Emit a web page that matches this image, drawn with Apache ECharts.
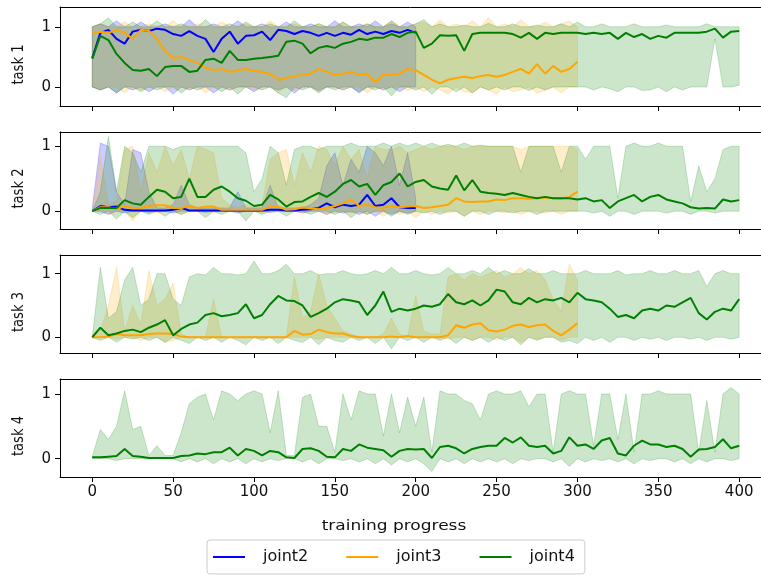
<!DOCTYPE html>
<html><head><meta charset="utf-8">
<script src="https://cdn.jsdelivr.net/npm/echarts@6/dist/echarts.min.js"></script>
<style>html,body{margin:0;padding:0;background:#fff}#c{width:761px;height:575px}</style>
</head><body><div id="c"></div>
<script>
// ---------- data (sampled every STEP units of training progress) ----------
const STEP = 5;
const xTicks = [0, 50, 100, 150, 200, 250, 300, 350, 400];
const yTicks = [0, 1];
const taskNames = ['task 1', 'task 2', 'task 3', 'task 4'];
const jointNames = ['joint2', 'joint3', 'joint4'];
const xLabel = 'training progress';

// task 1
const t1_j2_mean = [0.48,0.90,0.95,0.80,0.72,0.92,0.95,0.93,0.97,0.95,0.88,0.85,0.93,0.85,0.80,0.58,0.80,0.92,0.72,0.85,0.86,0.92,0.78,0.95,0.93,0.88,0.93,0.90,0.85,0.90,0.85,0.90,0.87,0.95,0.88,0.92,0.88,0.93,0.90,0.95,0.90];
const t1_j2_lo = [0.00,-0.05,0.00,-0.10,0.00,-0.05,0.00,-0.08,0.00,0.00,-0.12,0.00,-0.05,0.00,0.00,-0.10,0.00,-0.05,0.00,0.00,-0.08,0.00,0.00,-0.05,0.00,-0.10,0.00,0.00,-0.06,0.00,0.00,-0.05,0.00,-0.10,0.00,0.00,-0.05,0.00,-0.08,0.00,0.00];
const t1_j2_hi = [1.00,1.05,1.00,1.10,1.00,1.00,1.08,1.00,1.00,1.05,1.00,1.00,1.12,1.00,1.00,1.05,1.00,1.00,1.10,1.00,1.00,1.05,1.00,1.00,1.08,1.00,1.00,1.05,1.00,1.00,1.10,1.00,1.00,1.05,1.00,1.10,1.00,1.05,1.00,1.08,1.00];
const t1_j3_mean = [0.90,0.92,0.90,0.95,0.90,0.80,0.95,0.93,0.80,0.60,0.48,0.50,0.45,0.40,0.32,0.28,0.30,0.25,0.28,0.30,0.27,0.25,0.22,0.12,0.15,0.18,0.20,0.22,0.30,0.25,0.20,0.22,0.25,0.20,0.22,0.08,0.20,0.20,0.22,0.30,0.28,0.20,0.12,0.06,0.12,0.15,0.17,0.15,0.18,0.20,0.17,0.20,0.25,0.30,0.22,0.38,0.22,0.35,0.25,0.30,0.42];
const t1_j3_lo = [0.00,-0.05,0.00,0.00,-0.10,0.00,-0.05,0.00,0.00,-0.08,0.00,0.00,-0.05,0.00,-0.10,0.00,0.00,-0.06,0.00,0.00,-0.05,0.00,0.00,-0.10,0.00,-0.05,0.00,0.00,-0.08,0.00,0.00,-0.05,0.00,0.00,-0.10,0.00,-0.05,0.00,0.00,-0.06,0.00,-0.08,0.00,-0.05,-0.12,0.00,-0.08,-0.10,0.00,-0.05,-0.12,0.00,-0.08,-0.05,0.00,-0.10,-0.06,0.00,-0.10,0.00,0.00];
const t1_j3_hi = [1.00,1.05,1.00,1.00,1.08,1.00,1.00,1.05,1.00,1.00,1.10,1.00,1.00,1.05,1.00,1.00,1.08,1.00,1.00,1.05,1.00,1.00,1.10,1.00,1.00,1.05,1.00,1.00,1.06,1.00,1.00,1.08,1.00,1.00,1.05,1.00,1.00,1.10,1.00,1.00,1.05,1.08,1.00,1.12,1.00,1.05,1.00,1.10,1.00,1.15,1.00,1.05,1.00,1.12,1.00,1.00,1.08,1.00,1.05,1.10,1.00];
const t1_j4_mean = [0.47,0.85,0.78,0.55,0.40,0.28,0.27,0.30,0.18,0.33,0.35,0.35,0.25,0.27,0.45,0.47,0.40,0.60,0.45,0.45,0.47,0.48,0.50,0.52,0.75,0.77,0.72,0.56,0.65,0.68,0.65,0.72,0.75,0.80,0.78,0.82,0.82,0.88,0.83,0.90,0.92,0.65,0.72,0.86,0.85,0.86,0.60,0.88,0.90,0.90,0.90,0.90,0.88,0.82,0.90,0.80,0.90,0.88,0.90,0.90,0.90,0.88,0.90,0.88,0.90,0.80,0.90,0.83,0.88,0.80,0.85,0.82,0.90,0.90,0.90,0.90,0.92,0.97,0.82,0.92,0.93];
const t1_j4_lo = [0.00,-0.05,0.00,-0.10,0.00,0.00,-0.08,0.00,-0.05,0.00,0.00,-0.10,0.00,-0.05,0.00,0.00,-0.08,0.00,-0.12,0.00,0.00,-0.05,0.00,-0.10,-0.18,0.00,-0.05,0.00,-0.10,0.00,-0.05,0.00,0.00,-0.08,0.00,-0.05,0.00,-0.15,0.00,0.00,-0.05,0.00,-0.12,0.00,0.00,-0.08,0.00,-0.10,0.00,-0.05,0.00,-0.05,0.00,0.00,-0.06,0.00,-0.05,0.00,0.00,0.00,0.00,0.00,-0.05,0.00,-0.03,-0.08,0.00,0.00,-0.06,-0.05,0.00,-0.08,0.00,-0.05,0.00,0.00,0.00,0.80,0.00,0.00,0.03];
const t1_j4_hi = [1.00,1.05,1.15,1.00,1.00,1.08,1.00,1.00,1.10,1.00,1.00,1.05,1.00,1.00,1.12,1.00,1.00,1.05,1.00,1.08,1.00,1.00,1.05,1.00,1.00,1.10,1.00,1.00,1.05,1.00,1.00,1.08,1.00,1.00,1.05,1.00,1.00,1.10,1.00,1.00,1.05,1.12,1.00,1.05,1.00,1.00,1.03,1.00,1.00,1.06,1.00,1.00,1.05,1.00,1.00,1.03,1.00,1.00,1.05,1.00,1.08,1.00,1.00,1.05,1.00,1.00,1.00,1.05,1.00,1.00,1.00,1.03,1.00,1.00,1.00,1.00,1.05,1.00,1.00,1.00,1.00];

// task 2
const t2_j2_mean = [0.00,0.08,0.06,0.07,0.02,0.01,0.01,0.01,0.01,0.01,0.02,0.05,0.01,0.01,0.01,0.01,0.01,0.01,0.01,0.01,0.01,0.01,0.02,0.02,0.01,0.01,0.02,0.03,0.05,0.12,0.06,0.10,0.08,0.10,0.25,0.08,0.10,0.20,0.06,0.05,0.05];
const t2_j2_lo = [0.00,0.00,-0.05,0.00,-0.03,0.00,0.00,-0.02,0.00,0.00,-0.03,0.00,0.00,0.00,-0.02,0.00,0.00,0.00,-0.03,0.00,0.00,0.00,-0.02,0.00,0.00,0.00,-0.03,0.00,0.00,-0.05,0.00,-0.03,0.00,-0.05,0.00,-0.08,0.00,-0.05,0.00,-0.03,0.00];
const t2_j2_hi = [0.05,1.05,1.00,0.30,0.10,0.95,0.90,0.30,0.05,0.05,0.10,0.40,0.10,0.05,0.05,0.05,0.05,0.05,0.30,0.05,0.05,0.05,0.40,0.05,0.05,0.05,0.05,0.10,0.20,0.70,0.90,0.40,0.80,0.60,1.00,0.90,0.70,1.00,0.40,0.90,0.20];
const t2_j3_mean = [0.00,0.06,0.06,0.03,0.08,0.05,0.05,0.08,0.09,0.09,0.05,0.05,0.08,0.05,0.07,0.07,0.02,0.02,0.02,0.02,0.02,0.02,0.07,0.07,0.02,0.03,0.06,0.04,0.03,0.05,0.08,0.12,0.18,0.08,0.10,0.06,0.05,0.08,0.06,0.07,0.08,0.05,0.06,0.08,0.10,0.20,0.15,0.14,0.15,0.15,0.18,0.17,0.20,0.20,0.19,0.20,0.21,0.20,0.19,0.22,0.30];
const t2_j3_lo = [0.00,0.00,-0.05,0.00,0.00,-0.15,0.00,0.00,-0.03,0.00,0.00,-0.05,0.00,0.00,0.00,-0.03,0.00,0.00,0.00,0.00,0.00,-0.02,0.00,0.00,0.00,0.00,-0.03,0.00,0.00,-0.05,0.00,0.00,-0.03,0.00,-0.05,0.00,-0.08,0.00,-0.05,0.00,-0.10,0.00,-0.05,0.00,-0.03,0.00,-0.08,0.00,-0.05,0.00,0.00,-0.03,0.00,-0.05,0.00,0.00,-0.03,0.00,-0.05,0.00,0.00];
const t2_j3_hi = [0.00,0.85,0.10,0.15,0.95,1.00,0.30,0.90,0.60,1.00,0.70,0.95,0.50,1.00,0.95,0.90,0.20,0.10,0.05,0.10,0.05,0.10,0.80,0.90,0.95,0.40,0.90,0.60,1.00,0.95,0.70,1.00,0.80,0.95,0.50,1.00,0.95,0.95,1.00,0.90,0.95,1.00,0.95,1.00,1.00,1.00,0.95,1.00,1.00,1.00,1.00,1.00,1.00,0.95,1.00,1.00,1.00,1.00,1.00,1.00,0.95];
const t2_j4_mean = [0.00,0.05,0.05,0.05,0.17,0.12,0.10,0.22,0.33,0.30,0.20,0.22,0.50,0.22,0.22,0.33,0.38,0.30,0.20,0.16,0.08,0.10,0.25,0.18,0.07,0.14,0.15,0.22,0.28,0.22,0.30,0.42,0.48,0.38,0.42,0.25,0.40,0.45,0.58,0.38,0.45,0.48,0.38,0.35,0.33,0.55,0.32,0.48,0.30,0.28,0.27,0.25,0.28,0.25,0.22,0.20,0.22,0.20,0.20,0.20,0.18,0.20,0.15,0.17,0.05,0.15,0.20,0.25,0.15,0.22,0.25,0.18,0.15,0.12,0.06,0.04,0.05,0.04,0.18,0.15,0.17];
const t2_j4_lo = [0.00,-0.05,0.00,-0.12,0.00,-0.10,0.00,-0.05,0.00,-0.08,0.00,-0.05,0.00,0.00,-0.10,0.00,-0.05,0.00,0.00,-0.15,0.00,-0.05,0.00,0.00,-0.08,0.00,0.00,-0.05,0.00,0.00,-0.05,0.00,-0.10,0.00,-0.05,0.00,0.00,-0.08,0.00,-0.05,0.00,-0.03,0.00,-0.05,0.00,0.00,-0.08,0.00,0.00,-0.05,0.00,0.00,-0.03,0.00,0.00,-0.05,0.00,0.00,0.00,0.00,0.00,0.00,-0.03,0.00,-0.08,0.00,0.00,-0.05,0.00,0.00,0.00,-0.03,0.00,0.00,-0.05,0.00,0.00,-0.03,0.00,0.00,0.00];
const t2_j4_hi = [0.00,0.30,1.15,0.30,1.00,0.90,0.60,1.00,1.00,1.00,0.95,1.00,1.00,1.00,1.00,1.00,1.00,1.00,1.00,0.90,0.30,0.50,1.00,0.90,0.40,0.95,1.00,1.00,0.95,1.00,1.00,1.00,1.05,1.00,1.00,1.00,1.05,1.00,1.05,1.00,1.05,1.00,1.05,1.00,1.03,1.00,1.05,1.00,1.02,1.00,1.00,1.00,1.00,0.60,1.00,1.00,1.00,1.00,0.60,1.00,1.00,0.80,1.00,1.00,1.00,0.20,1.00,1.05,1.00,1.00,1.05,1.00,1.00,1.00,0.15,0.70,0.30,0.50,0.95,1.00,1.00];

// task 3
const t3_j3_mean = [0.00,0.00,0.01,0.05,0.03,0.03,0.03,0.05,0.06,0.06,0.05,0.01,0.00,0.00,0.00,0.00,0.00,0.00,0.00,0.00,0.00,0.00,0.00,0.00,0.00,0.10,0.04,0.05,0.12,0.08,0.06,0.06,0.02,0.00,0.00,0.00,0.00,0.01,0.00,0.02,0.00,0.00,0.00,0.00,0.03,0.19,0.15,0.20,0.22,0.11,0.09,0.12,0.18,0.20,0.16,0.19,0.20,0.10,0.03,0.12,0.22];
const t3_j3_lo = [0.00,0.00,0.00,-0.03,0.00,0.00,-0.05,0.00,0.00,-0.08,-0.05,0.00,0.00,0.00,0.00,0.00,0.00,0.00,0.00,0.00,0.00,0.00,0.00,0.00,0.00,0.00,0.00,0.00,-0.03,0.00,0.00,0.00,0.00,0.00,0.00,0.00,0.00,0.00,0.00,0.00,0.00,0.00,0.00,0.00,-0.03,0.00,0.00,-0.05,0.00,0.00,-0.05,0.00,0.00,-0.08,0.00,-0.03,0.00,0.00,-0.05,0.00,0.00];
const t3_j3_hi = [0.00,0.10,0.50,1.10,0.10,0.50,0.20,1.05,0.50,0.60,0.85,0.05,0.00,0.00,0.00,0.60,0.00,0.00,0.00,0.00,0.00,0.00,0.00,0.00,0.00,0.95,0.30,0.40,1.00,0.50,0.30,0.10,0.05,0.00,0.00,0.00,0.05,0.30,0.05,0.00,0.65,0.10,0.05,0.05,0.95,1.00,0.90,1.00,0.95,1.00,1.05,0.95,1.00,1.10,1.00,1.05,0.90,0.60,0.40,1.15,0.90];
const t3_j4_mean = [0.00,0.15,0.03,0.06,0.10,0.12,0.08,0.15,0.20,0.27,0.03,0.13,0.20,0.23,0.35,0.38,0.33,0.35,0.38,0.52,0.30,0.35,0.52,0.65,0.58,0.57,0.50,0.32,0.38,0.45,0.55,0.60,0.58,0.55,0.35,0.50,0.72,0.40,0.45,0.42,0.45,0.50,0.48,0.52,0.68,0.55,0.52,0.58,0.50,0.58,0.75,0.72,0.55,0.52,0.62,0.55,0.60,0.58,0.62,0.55,0.70,0.60,0.58,0.55,0.45,0.32,0.35,0.30,0.42,0.45,0.42,0.50,0.48,0.55,0.62,0.38,0.28,0.40,0.45,0.42,0.60];
const t3_j4_lo = [0.00,-0.05,0.00,-0.08,0.00,-0.03,0.00,-0.05,0.00,-0.08,0.00,-0.05,-0.10,0.00,-0.05,0.00,-0.08,0.00,-0.05,-0.12,0.00,-0.05,0.00,-0.10,0.00,-0.05,-0.08,0.00,-0.12,0.00,-0.05,-0.08,0.00,-0.05,0.00,-0.10,0.00,-0.18,0.00,-0.05,0.00,-0.08,0.00,-0.05,0.00,-0.10,0.00,-0.05,0.00,-0.08,0.00,-0.05,0.00,-0.12,0.00,-0.05,0.00,0.00,-0.08,-0.05,-0.10,0.00,-0.05,0.00,-0.08,0.00,0.00,-0.05,0.00,-0.03,0.00,-0.05,0.00,0.00,-0.03,0.00,-0.05,0.00,0.00,-0.03,0.00];
const t3_j4_hi = [0.00,1.10,0.30,0.40,0.90,1.10,0.50,0.60,1.00,1.00,0.60,0.50,0.95,1.00,0.98,1.10,1.00,1.00,0.98,1.00,1.20,1.00,1.00,1.05,1.15,1.00,1.00,1.05,0.98,1.00,1.00,1.05,1.00,0.98,1.00,1.05,1.00,1.10,1.00,1.00,1.05,1.00,0.98,1.00,1.10,1.00,1.00,1.05,1.00,1.10,1.00,1.05,1.00,1.00,1.08,1.00,1.00,1.05,1.00,1.00,1.00,1.05,1.00,1.00,1.00,1.05,0.98,1.00,1.00,1.05,1.00,1.00,1.05,1.00,1.00,1.05,0.80,1.00,1.05,1.00,1.00];

// task 4
const t4_j4_mean = [0.02,0.02,0.03,0.04,0.15,0.04,0.03,0.01,0.01,0.01,0.01,0.04,0.05,0.08,0.07,0.10,0.10,0.17,0.05,0.15,0.12,0.05,0.12,0.10,0.02,0.01,0.15,0.16,0.12,0.03,0.02,0.15,0.12,0.22,0.17,0.15,0.13,0.03,0.12,0.15,0.14,0.15,0.01,0.18,0.20,0.16,0.08,0.15,0.18,0.20,0.20,0.32,0.25,0.33,0.20,0.18,0.20,0.08,0.12,0.33,0.20,0.22,0.15,0.28,0.32,0.08,0.05,0.20,0.28,0.22,0.22,0.18,0.20,0.15,0.03,0.14,0.15,0.18,0.30,0.16,0.20];
const t4_j4_lo = [0.00,0.00,0.00,-0.03,0.00,0.00,0.00,0.00,0.00,0.00,0.00,-0.05,0.00,-0.05,0.00,-0.08,0.00,-0.05,0.00,-0.08,0.00,-0.05,0.00,-0.03,0.00,0.00,-0.05,0.00,-0.08,0.00,0.00,-0.03,0.00,-0.05,0.00,-0.08,0.00,-0.10,0.00,-0.05,0.00,-0.08,-0.20,0.00,-0.05,0.00,-0.08,0.00,-0.05,0.00,-0.05,0.00,-0.08,0.00,-0.03,0.00,0.00,-0.05,0.00,-0.12,0.00,-0.05,0.00,-0.03,0.00,-0.05,0.00,-0.08,0.00,-0.03,0.00,0.00,-0.05,0.00,-0.08,0.00,-0.05,0.00,0.00,-0.03,0.00];
const t4_j4_hi = [0.03,0.45,0.30,0.50,1.05,0.45,0.50,0.05,0.20,0.05,0.05,0.40,0.85,0.95,1.00,0.60,1.05,1.00,0.90,1.00,1.05,1.00,0.40,1.05,0.05,0.05,0.95,1.00,0.50,0.50,0.10,1.00,0.60,1.05,1.00,1.00,0.35,1.00,0.40,0.95,0.50,0.95,0.10,1.05,1.00,1.00,0.90,0.85,0.60,1.00,1.05,1.00,1.00,1.05,0.80,1.00,1.00,0.10,1.00,1.05,1.00,1.00,0.20,1.00,1.00,0.30,1.00,0.10,1.00,1.00,1.05,1.00,1.00,1.00,1.00,0.10,0.90,0.10,1.00,1.10,1.00];

// ---------- layout / style ----------
const colors = {joint2: '#0000ff', joint3: '#ffa500', joint4: '#008000'};
const bandFill = {joint2: 'rgba(0,0,255,0.2)', joint3: 'rgba(255,165,0,0.2)', joint4: 'rgba(0,128,0,0.2)'};
const FONT = 'DejaVu Sans';
const X_MIN = -19.95, X_MAX = 413.5;   // visible part of the axes (figure is cropped on the right)
const GRID_LEFT = 60;
const gridBoxes = [[7, 99], [132, 97], [255, 98], [379, 98]];
const yRanges = [[-0.317, 1.33], [-0.275, 1.22], [-0.248, 1.295], [-0.284, 1.233]];

const taskData = [
  {joint2: [t1_j2_mean, t1_j2_lo, t1_j2_hi], joint3: [t1_j3_mean, t1_j3_lo, t1_j3_hi], joint4: [t1_j4_mean, t1_j4_lo, t1_j4_hi]},
  {joint2: [t2_j2_mean, t2_j2_lo, t2_j2_hi], joint3: [t2_j3_mean, t2_j3_lo, t2_j3_hi], joint4: [t2_j4_mean, t2_j4_lo, t2_j4_hi]},
  {joint3: [t3_j3_mean, t3_j3_lo, t3_j3_hi], joint4: [t3_j4_mean, t3_j4_lo, t3_j4_hi]},
  {joint4: [t4_j4_mean, t4_j4_lo, t4_j4_hi]}
];

const pairs = arr => arr.map((v, i) => [i * STEP, v]);
const nG = gridBoxes.length;

const grid = [], xAxis = [], yAxis = [], series = [], graphic = [];
const frameLine = {show: true, onZero: false, lineStyle: {color: '#000', width: 1}};
gridBoxes.forEach(([top, h], g) => {
  grid.push({left: GRID_LEFT, top: top, right: 0, height: h, show: false});
  xAxis.push({gridIndex: g, type: 'value', position: 'bottom', min: X_MIN, max: X_MAX,
    axisLine: frameLine, splitLine: {show: false},
    axisTick: {show: true, customValues: xTicks, length: 5, lineStyle: {color: '#000', width: 1}},
    axisLabel: {show: g === nG - 1, customValues: xTicks, fontSize: 15, fontFamily: FONT, color: '#111', margin: 8}});
  yAxis.push({gridIndex: g, type: 'value', position: 'left', min: yRanges[g][0], max: yRanges[g][1],
    axisLine: frameLine, splitLine: {show: false},
    axisTick: {show: true, customValues: yTicks, length: 5, lineStyle: {color: '#000', width: 1}},
    axisLabel: {customValues: yTicks, fontSize: 15, fontFamily: FONT, color: '#111', margin: 9}});
  graphic.push({type: 'text', x: 19, y: top + h / 2 + 8, rotation: Math.PI / 2, scaleX: 0.82,
    style: {text: taskNames[g], fontSize: 16, fontFamily: FONT, fill: '#111',
      align: 'center', verticalAlign: 'middle', textAlign: 'center', textVerticalAlign: 'middle'}});
});
// top frame lines (extra x axes, line only)
gridBoxes.forEach((b, g) => {
  xAxis.push({gridIndex: g, type: 'value', position: 'top', min: X_MIN, max: X_MAX,
    axisLine: frameLine, axisTick: {show: false}, axisLabel: {show: false}, splitLine: {show: false}});
});

// shaded bands (polygon through the axis scales)
taskData.forEach((td, g) => {
  jointNames.forEach(j => {
    if (!td[j]) return;
    const [, lo, hi] = td[j];
    series.push({type: 'custom', name: j + ' band', xAxisIndex: g, yAxisIndex: g, silent: true, z: 1, clip: true,
      data: lo.map((l, i) => [i * STEP, l, hi[i]]),
      encode: {x: 0, y: [1, 2]},
      renderItem: (params, api) => {
        if (params.dataIndex !== 0) return null;
        const pts = [];
        for (let i = 0; i < hi.length; i++) pts.push(api.coord([i * STEP, hi[i]]));
        for (let i = lo.length - 1; i >= 0; i--) pts.push(api.coord([i * STEP, lo[i]]));
        return {type: 'polygon', shape: {points: pts},
          style: {fill: bandFill[j], stroke: bandFill[j], lineWidth: 1}};
      }});
  });
});
// mean lines
taskData.forEach((td, g) => {
  jointNames.forEach(j => {
    if (!td[j]) return;
    series.push({type: 'line', name: j, xAxisIndex: g, yAxisIndex: g, data: pairs(td[j][0]),
      symbol: 'none', z: 3, color: colors[j], itemStyle: {color: colors[j]},
      lineStyle: {color: colors[j], width: 2}});
  });
});

graphic.push({type: 'text', x: 394, y: 526, scaleY: 0.85,
  style: {text: xLabel, fontSize: 17, fontFamily: FONT, fill: '#111',
    align: 'center', verticalAlign: 'middle', textAlign: 'center', textVerticalAlign: 'middle'}});

const chart = echarts.init(document.getElementById('c'), null, {renderer: 'canvas', width: 761, height: 575});
chart.setOption({
  animation: false,
  textStyle: {fontFamily: FONT},
  grid, xAxis, yAxis, series, graphic,
  legend: {data: jointNames, left: 207, top: 540, icon: 'rect', itemWidth: 32, itemHeight: 2, itemGap: 38,
    padding: [9, 10, 9, 6], borderColor: '#cccccc', borderWidth: 1, borderRadius: 3, backgroundColor: '#fff',
    textStyle: {fontSize: 16, fontFamily: FONT, color: '#111', padding: [0, 0, 0, 13]}}
});
</script></body></html>
